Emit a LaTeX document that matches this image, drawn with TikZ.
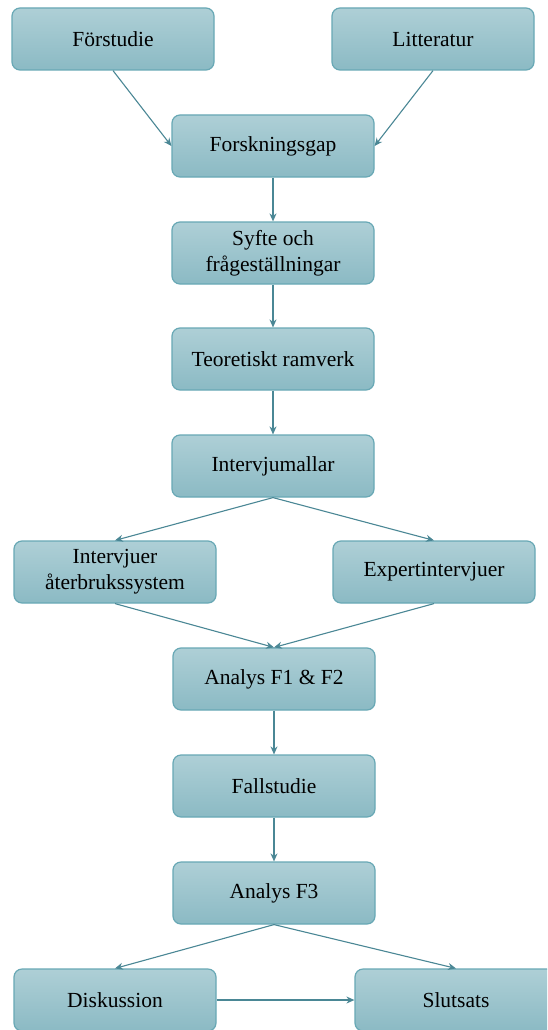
\documentclass[tikz,border=0pt]{standalone}
\usepackage{fontspec}
\setmainfont{Liberation Serif}
\usetikzlibrary{arrows.meta,positioning}
\definecolor{boxtop}{HTML}{AECFD6}
\definecolor{boxbot}{HTML}{8BBAC4}
\definecolor{boxline}{HTML}{68A8B5}
\definecolor{arrowcol}{HTML}{4A8795}

\begin{document}
\begin{tikzpicture}[
    x=1pt, y=-1pt,
    stage/.style={rectangle, rounded corners=8pt, draw=boxline, line width=1.2pt,
        top color=boxtop, bottom color=boxbot, minimum width=202pt, minimum height=62pt,
        align=center, font=\fontsize{21.5}{26}\selectfont, inner sep=2pt},
    flow/.style={-{Stealth[length=8pt,width=7pt]}, line width=1.1pt, draw=arrowcol}
]
    \clip (0,0) rectangle (547,1030);
    \fill[white] (0,0) rectangle (547,1030);

    % Top row
    \node[stage] (pre) at (113,39) {Förstudie};
    \node[stage] (lit) at (433,39) {Litteratur};

    % Main column
    \node[stage] (gap) at (273,146) {Forskningsgap};
    \node[stage] (aim) at (273,253) {Syfte och\\frågeställningar};
    \node[stage] (theory) at (273,359) {Teoretiskt ramverk};
    \node[stage] (guide) at (273,466) {Intervjumallar};

    % Interviews
    \node[stage] (reuse) at (115,572) {Intervjuer\\återbrukssystem};
    \node[stage] (expert) at (434,572) {Expertintervjuer};

    \node[stage] (ana12) at (274,679) {Analys F1 \& F2};
    \node[stage] (case) at (274,786) {Fallstudie};
    \node[stage] (ana3) at (274,893) {Analys F3};

    % Bottom row
    \node[stage] (disc) at (115,1000) {Diskussion};
    \node[stage] (concl) at (456,1000) {Slutsats};

    % Flow arrows
    \draw[flow] (pre.south) -- (gap.west);
    \draw[flow] (lit.south) -- (gap.east);
    \draw[flow] (gap) -- (aim);
    \draw[flow] (aim) -- (theory);
    \draw[flow] (theory) -- (guide);
    \draw[flow] (guide.south) -- (reuse.north);
    \draw[flow] (guide.south) -- (expert.north);
    \draw[flow] (reuse.south) -- (ana12.north);
    \draw[flow] (expert.south) -- (ana12.north);
    \draw[flow] (ana12) -- (case);
    \draw[flow] (case) -- (ana3);
    \draw[flow] (ana3.south) -- (disc.north);
    \draw[flow] (ana3.south) -- (concl.north);
    \draw[flow] (disc) -- (concl);
\end{tikzpicture}
\end{document}
